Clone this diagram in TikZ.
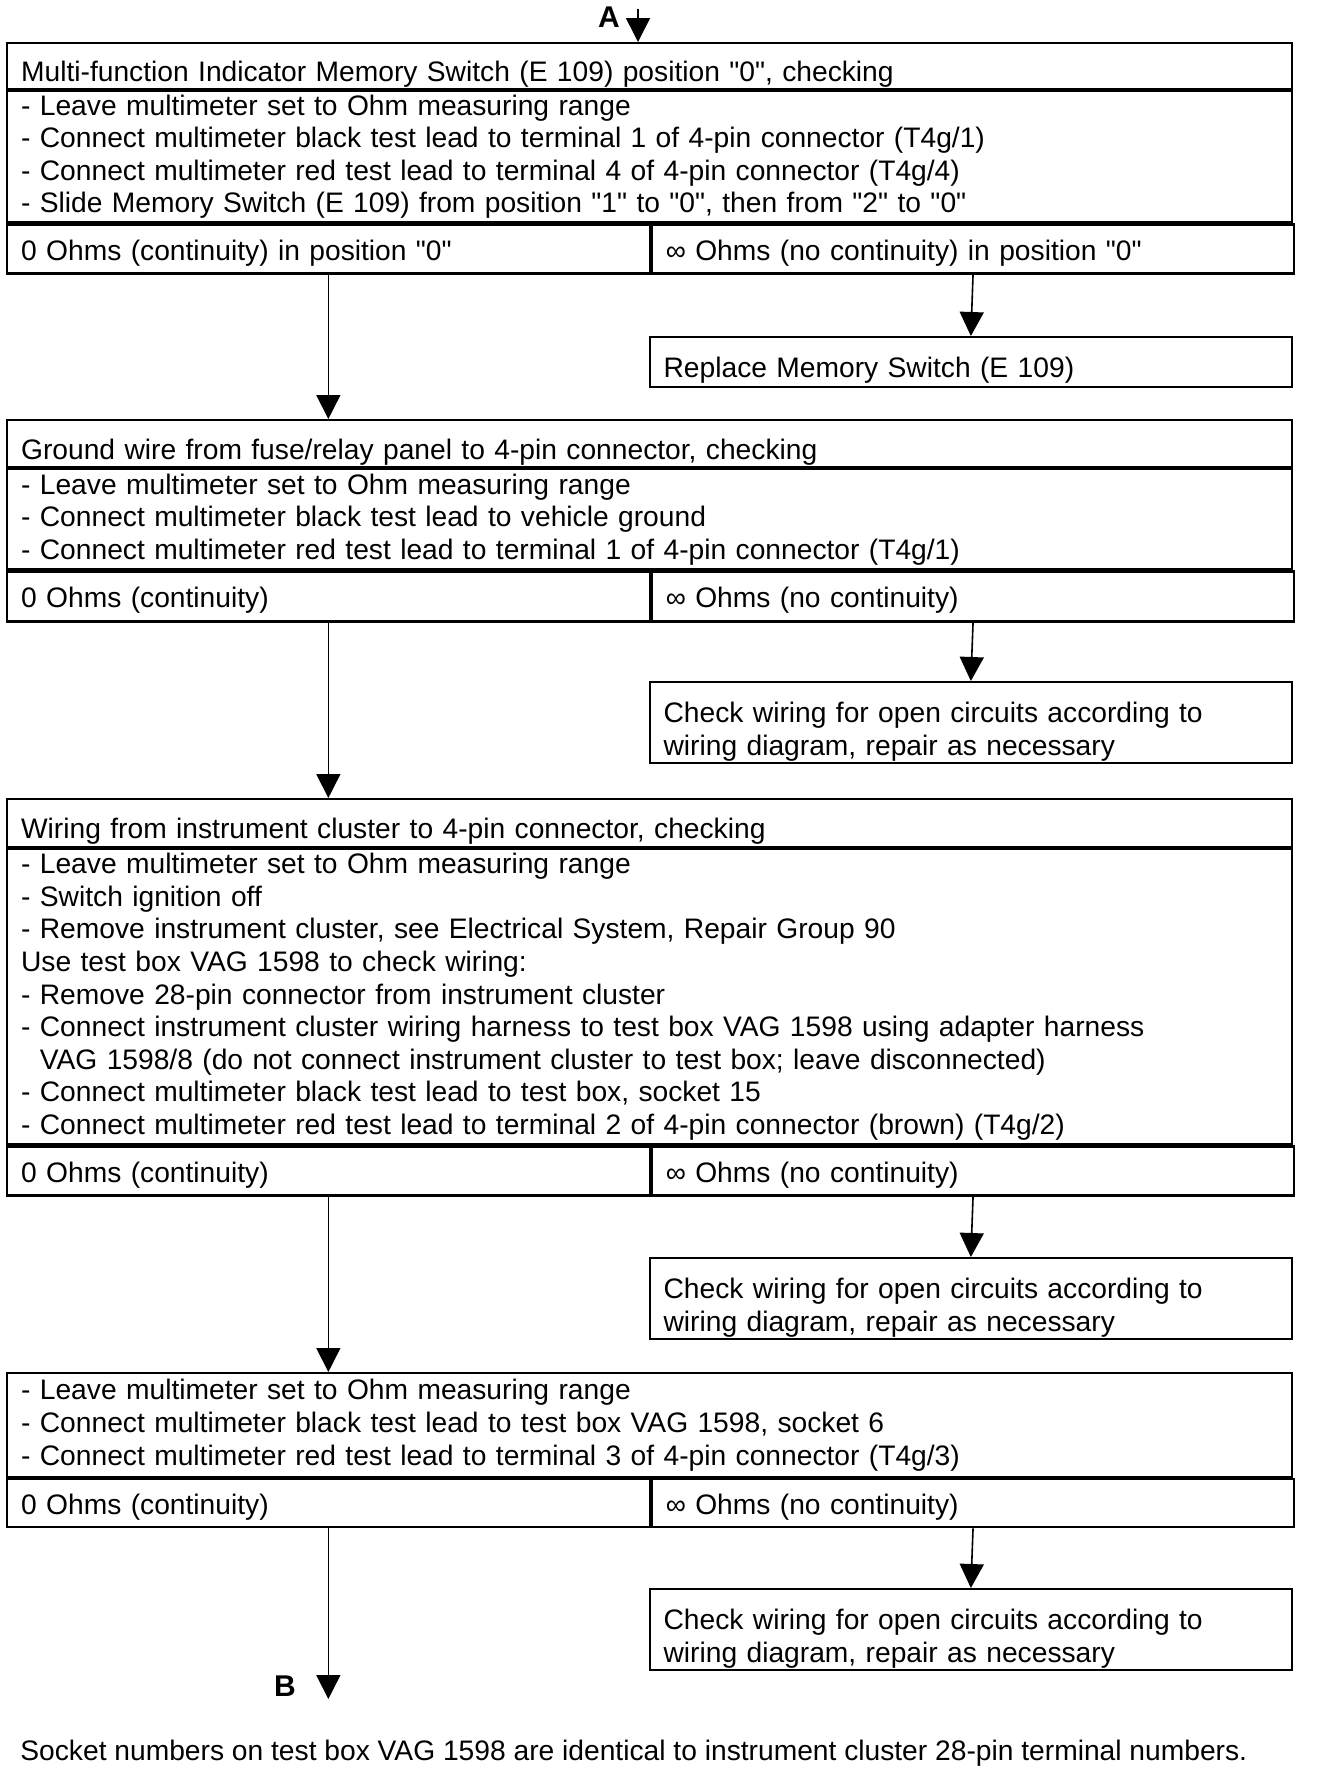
\documentclass[tikz,border=0pt]{standalone}
\usepackage{fontspec}
\setmainfont{Liberation Sans}[Ligatures=TeXOff]
\usetikzlibrary{arrows.meta,positioning}
\newcommand{\boxfont}{\fontsize{14.1}{16.3}\selectfont}
\tikzset{
  sect/.style={draw, line width=1.1pt, anchor=north west, inner xsep=7pt,
    inner ysep=0pt, align=left, font=\boxfont},
  full/.style={sect, text width=628.5pt},
  half/.style={sect, text width=307.25pt},
  head/.style={text height=15.7pt, text depth=0pt},
  opt/.style={text height=11pt, text depth=0pt},
  two/.style={text height=10pt, text depth=10pt},
  flow/.style={line width=0.8pt, -{Triangle[width=12pt,length=12pt]}},
  tag/.style={font=\fontsize{15}{18}\selectfont\bfseries},
}
\begin{document}
\begin{tikzpicture}[x=0.5pt, y=-0.5pt]
  \useasboundingbox (0,0) rectangle (1344,1768);

  % Entry A
  \coordinate (ain) at (638,9);
  \node[tag] (alab) at (609,17) {A};

  % Memory switch check
  \node[full, head, minimum height=23pt] (h1) at (6,42)
    {Multi-function Indicator Memory Switch (E 109) position "0", checking};
  \node[full, minimum height=65.5pt] (b1) at (h1.south west)
    {- Leave multimeter set to Ohm measuring range\\
     - Connect multimeter black test lead to terminal 1 of 4-pin connector (T4g/1)\\
     - Connect multimeter red test lead to terminal 4 of 4-pin connector (T4g/4)\\
     - Slide Memory Switch (E 109) from position "1" to "0", then from "2" to "0"};
  \node[half, opt, minimum height=24.5pt] (y1) at (b1.south west)
    {0 Ohms (continuity) in position "0"};
  \node[half, opt, minimum height=24.5pt] (n1) at (y1.north east)
    {∞ Ohms (no continuity) in position "0"};
  \node[half, head, minimum height=25pt] (r1) at (648.5,336)
    {Replace Memory Switch (E 109)};

  % Ground wire check
  \node[full, head, minimum height=23.5pt] (h2) at (6,419)
    {Ground wire from fuse/relay panel to 4-pin connector, checking};
  \node[full, minimum height=50pt] (b2) at (h2.south west)
    {- Leave multimeter set to Ohm measuring range\\
     - Connect multimeter black test lead to vehicle ground\\
     - Connect multimeter red test lead to terminal 1 of 4-pin connector (T4g/1)};
  \node[half, opt, minimum height=25pt] (y2) at (b2.south west) {0 Ohms (continuity)};
  \node[half, opt, minimum height=25pt] (n2) at (y2.north east) {∞ Ohms (no continuity)};
  \node[half, two, minimum height=40.5pt] (c1) at (648.5,681)
    {Check wiring for open circuits according to\\wiring diagram, repair as necessary};

  % Instrument cluster wiring check
  \node[full, head, minimum height=24pt] (h3) at (6,798)
    {Wiring from instrument cluster to 4-pin connector, checking};
  \node[full, minimum height=147.5pt] (b3) at (h3.south west)
    {- Leave multimeter set to Ohm measuring range\\
     - Switch ignition off\\
     - Remove instrument cluster, see Electrical System, Repair Group 90\\
     Use test box VAG 1598 to check wiring:\\
     - Remove 28-pin connector from instrument cluster\\
     - Connect instrument cluster wiring harness to test box VAG 1598 using adapter harness\\
     \hphantom{-\ }VAG 1598/8 (do not connect instrument cluster to test box; leave disconnected)\\
     - Connect multimeter black test lead to test box, socket 15\\
     - Connect multimeter red test lead to terminal 2 of 4-pin connector (brown) (T4g/2)};
  \node[half, opt, minimum height=24.5pt] (y3) at (b3.south west) {0 Ohms (continuity)};
  \node[half, opt, minimum height=24.5pt] (n3) at (y3.north east) {∞ Ohms (no continuity)};
  \node[half, two, minimum height=40.5pt] (c2) at (648.5,1257)
    {Check wiring for open circuits according to\\wiring diagram, repair as necessary};

  % Socket 6 check
  \node[full, minimum height=52pt] (b4) at (6,1372)
    {- Leave multimeter set to Ohm measuring range\\
     - Connect multimeter black test lead to test box VAG 1598, socket 6\\
     - Connect multimeter red test lead to terminal 3 of 4-pin connector (T4g/3)};
  \node[half, opt, minimum height=24pt] (y4) at (b4.south west) {0 Ohms (continuity)};
  \node[half, opt, minimum height=24pt] (n4) at (y4.north east) {∞ Ohms (no continuity)};
  \node[half, two, minimum height=40.5pt] (c3) at (648.5,1588)
    {Check wiring for open circuits according to\\wiring diagram, repair as necessary};

  % Exit B
  \coordinate (bout) at (326,1699);
  \node[tag] (blab) at (285,1686) {B};

  % Footnote
  \node[font=\boxfont, anchor=west, inner sep=0pt] (note) at (20,1753)
    {Socket numbers on test box VAG 1598 are identical to instrument cluster 28-pin terminal numbers.};

  % Connectors
  \draw[flow] (ain) -- (ain |- h1.north);
  \draw[flow] (n1.south) -- (r1.north);
  \draw[flow] (y1.south) -- (y1.south |- h2.north);
  \draw[flow] (n2.south) -- (c1.north);
  \draw[flow] (y2.south) -- (y2.south |- h3.north);
  \draw[flow] (n3.south) -- (c2.north);
  \draw[flow] (y3.south) -- (y3.south |- b4.north);
  \draw[flow] (n4.south) -- (c3.north);
  \draw[flow] (y4.south) -- (y4.south |- bout);
\end{tikzpicture}
\end{document}
